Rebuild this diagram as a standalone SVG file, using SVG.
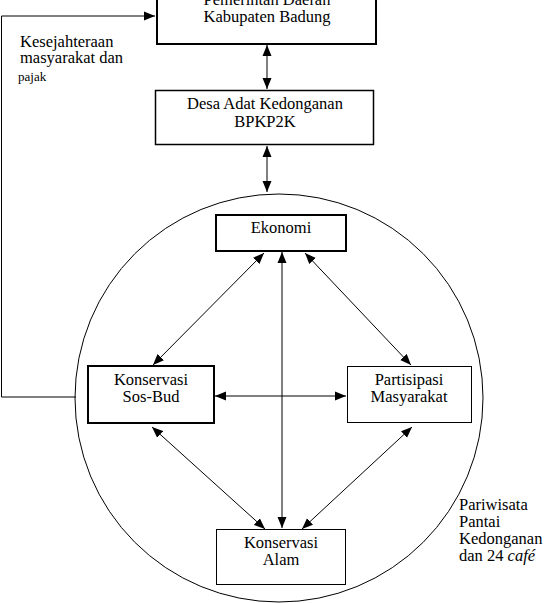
<svg xmlns="http://www.w3.org/2000/svg" width="549" height="603" viewBox="0 0 549 603" font-family="Liberation Serif, Times New Roman, Times, serif">
<style>
.t{font-size:16.5px;fill:#000}
.c{text-anchor:middle}
.box{fill:#fff;stroke:#000}
.ln{fill:none;stroke:#000;stroke-width:1}
</style>
<defs>
<marker id="ah" markerUnits="userSpaceOnUse" markerWidth="12" markerHeight="10" refX="11" refY="4.5" orient="auto-start-reverse" viewBox="0 0 12 9">
<path d="M0,0 L11,4.5 L0,9 z" fill="#000"/>
</marker>
</defs>
<rect width="549" height="603" fill="#fff"/>
<g id="circle-pariwisata">
<circle cx="279" cy="398" r="204" fill="none" stroke="#000" stroke-width="1"/>
<text class="t" x="459" y="510" font-family="Liberation Serif">Pariwisata</text>
<text class="t" x="459" y="527" font-family="Liberation Serif">Pantai</text>
<text class="t" x="459" y="544" font-family="Liberation Serif">Kedonganan</text>
<text class="t" x="459" y="561" font-family="Liberation Serif">dan 24 <tspan font-style="italic">café</tspan></text>
</g>
<g id="connectors">
<polyline class="ln" points="76,397 1.5,397 1.5,16 155,16" marker-end="url(#ah)"/>
<line class="ln" x1="267" y1="45" x2="267" y2="89" marker-start="url(#ah)" marker-end="url(#ah)"/>
<line class="ln" x1="267" y1="146" x2="267" y2="192" marker-start="url(#ah)" marker-end="url(#ah)"/>
<line class="ln" x1="282" y1="252" x2="282" y2="528" stroke-width="2" marker-start="url(#ah)" marker-end="url(#ah)"/>
<line class="ln" x1="215" y1="396" x2="346" y2="396" marker-start="url(#ah)" marker-end="url(#ah)"/>
<line class="ln" x1="264" y1="253" x2="153" y2="365" marker-start="url(#ah)" marker-end="url(#ah)"/>
<line class="ln" x1="305" y1="253" x2="411" y2="365" marker-start="url(#ah)" marker-end="url(#ah)"/>
<line class="ln" x1="152" y1="427" x2="265" y2="529" marker-start="url(#ah)" marker-end="url(#ah)"/>
<line class="ln" x1="412" y1="427" x2="302" y2="529" marker-start="url(#ah)" marker-end="url(#ah)"/>
</g>
<g id="label-kesejahteraan" font-family="Liberation Serif">
<text class="t" x="20" y="47">Kesejahteraan</text>
<text class="t" x="20" y="63">masyarakat dan</text>
<text class="t" x="18" y="81" style="font-size:13px">pajak</text>
</g>
<g id="node-pemda">
<rect class="box" x="157" y="-10" width="219" height="54" stroke-width="2"/>
<text class="t c" x="267" y="5">Pemerintah Daerah</text>
<text class="t c" x="267" y="22">Kabupaten Badung</text>
</g>
<g id="node-desa">
<rect class="box" x="155.5" y="90.5" width="218" height="54" stroke-width="1.5"/>
<text class="t c" x="265" y="109">Desa Adat Kedonganan</text>
<text class="t c" x="265" y="127">BPKP2K</text>
</g>
<g id="node-ekonomi">
<rect class="box" x="216" y="215" width="130" height="36" stroke-width="2"/>
<text class="t c" x="281" y="233">Ekonomi</text>
</g>
<g id="node-sosbud">
<rect class="box" x="88" y="366" width="126" height="57" stroke-width="2"/>
<text class="t c" x="151" y="385">Konservasi</text>
<text class="t c" x="151" y="402">Sos-Bud</text>
</g>
<g id="node-partisipasi">
<rect class="box" x="347.5" y="366.5" width="124" height="56" stroke-width="1"/>
<text class="t c" x="409" y="385">Partisipasi</text>
<text class="t c" x="409" y="402">Masyarakat</text>
</g>
<g id="node-alam">
<rect class="box" x="216.5" y="529.5" width="129" height="55" stroke-width="1"/>
<text class="t c" x="281" y="548">Konservasi</text>
<text class="t c" x="281" y="565">Alam</text>
</g>
</svg>
